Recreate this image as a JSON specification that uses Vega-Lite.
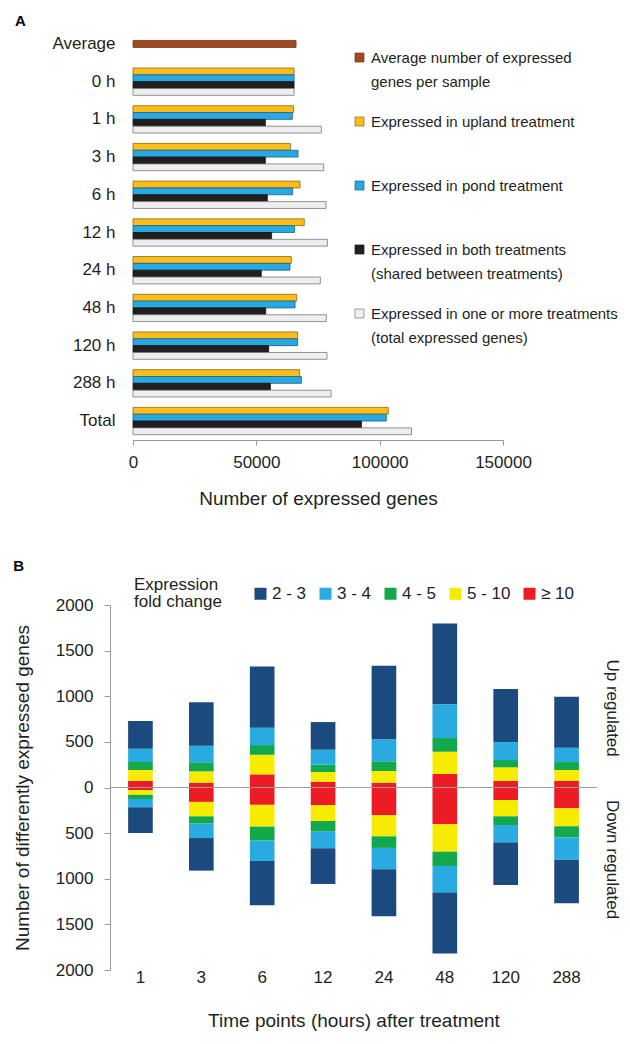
{
  "$schema": "https://vega.github.io/schema/vega-lite/v6.json",
  "padding": {"left": 13, "top": 14, "right": 5, "bottom": 5},
  "background": "white",
  "config": {
    "font": "Liberation Sans",
    "view": {"stroke": null},
    "axis": {"labelColor": "#231F20", "titleColor": "#231F20", "titleFontWeight": "normal", "labelFontSize": 17, "titleFontSize": 19, "grid": false},
    "legend": {"labelColor": "#231F20", "titleColor": "#231F20"},
    "title": {"color": "#000000", "fontWeight": "bold", "fontSize": 15},
    "style": {"guide-label": {"lineHeight": 24}}
  },
  "datasets": {
    "a": [
      {"time": "Average", "series": "Average", "genes": 66100},
      {"time": "0 h", "series": "Upland", "genes": 65300},
      {"time": "0 h", "series": "Pond", "genes": 65300},
      {"time": "0 h", "series": "Both", "genes": 65300},
      {"time": "0 h", "series": "Total", "genes": 65300},
      {"time": "1 h", "series": "Upland", "genes": 65100},
      {"time": "1 h", "series": "Pond", "genes": 64600},
      {"time": "1 h", "series": "Both", "genes": 53650},
      {"time": "1 h", "series": "Total", "genes": 76350},
      {"time": "3 h", "series": "Upland", "genes": 63900},
      {"time": "3 h", "series": "Pond", "genes": 66900},
      {"time": "3 h", "series": "Both", "genes": 53650},
      {"time": "3 h", "series": "Total", "genes": 77300},
      {"time": "6 h", "series": "Upland", "genes": 67700},
      {"time": "6 h", "series": "Pond", "genes": 64700},
      {"time": "6 h", "series": "Both", "genes": 54450},
      {"time": "6 h", "series": "Total", "genes": 78250},
      {"time": "12 h", "series": "Upland", "genes": 69450},
      {"time": "12 h", "series": "Pond", "genes": 65500},
      {"time": "12 h", "series": "Both", "genes": 56200},
      {"time": "12 h", "series": "Total", "genes": 78800},
      {"time": "24 h", "series": "Upland", "genes": 64200},
      {"time": "24 h", "series": "Pond", "genes": 63650},
      {"time": "24 h", "series": "Both", "genes": 52000},
      {"time": "24 h", "series": "Total", "genes": 75950},
      {"time": "48 h", "series": "Upland", "genes": 66350},
      {"time": "48 h", "series": "Pond", "genes": 65700},
      {"time": "48 h", "series": "Both", "genes": 53800},
      {"time": "48 h", "series": "Total", "genes": 78400},
      {"time": "120 h", "series": "Upland", "genes": 66750},
      {"time": "120 h", "series": "Pond", "genes": 66750},
      {"time": "120 h", "series": "Both", "genes": 55000},
      {"time": "120 h", "series": "Total", "genes": 78650},
      {"time": "288 h", "series": "Upland", "genes": 67550},
      {"time": "288 h", "series": "Pond", "genes": 68250},
      {"time": "288 h", "series": "Both", "genes": 55700},
      {"time": "288 h", "series": "Total", "genes": 80300},
      {"time": "Total", "series": "Upland", "genes": 103500},
      {"time": "Total", "series": "Pond", "genes": 102700},
      {"time": "Total", "series": "Both", "genes": 92600},
      {"time": "Total", "series": "Total", "genes": 112900}
    ],
    "b": [
      {"time": "1", "fold": "≥ 10", "k": 1, "n": 75},
      {"time": "1", "fold": "5 - 10", "k": 2, "n": 117},
      {"time": "1", "fold": "4 - 5", "k": 3, "n": 87},
      {"time": "1", "fold": "3 - 4", "k": 4, "n": 146},
      {"time": "1", "fold": "2 - 3", "k": 5, "n": 303},
      {"time": "1", "fold": "≥ 10", "k": 1, "n": -27},
      {"time": "1", "fold": "5 - 10", "k": 2, "n": -52},
      {"time": "1", "fold": "4 - 5", "k": 3, "n": -47},
      {"time": "1", "fold": "3 - 4", "k": 4, "n": -91},
      {"time": "1", "fold": "2 - 3", "k": 5, "n": -281},
      {"time": "3", "fold": "≥ 10", "k": 1, "n": 53},
      {"time": "3", "fold": "5 - 10", "k": 2, "n": 124},
      {"time": "3", "fold": "4 - 5", "k": 3, "n": 99},
      {"time": "3", "fold": "3 - 4", "k": 4, "n": 182},
      {"time": "3", "fold": "2 - 3", "k": 5, "n": 475},
      {"time": "3", "fold": "≥ 10", "k": 1, "n": -158},
      {"time": "3", "fold": "5 - 10", "k": 2, "n": -158},
      {"time": "3", "fold": "4 - 5", "k": 3, "n": -80},
      {"time": "3", "fold": "3 - 4", "k": 4, "n": -158},
      {"time": "3", "fold": "2 - 3", "k": 5, "n": -357},
      {"time": "6", "fold": "≥ 10", "k": 1, "n": 144},
      {"time": "6", "fold": "5 - 10", "k": 2, "n": 215},
      {"time": "6", "fold": "4 - 5", "k": 3, "n": 106},
      {"time": "6", "fold": "3 - 4", "k": 4, "n": 190},
      {"time": "6", "fold": "2 - 3", "k": 5, "n": 672},
      {"time": "6", "fold": "≥ 10", "k": 1, "n": -190},
      {"time": "6", "fold": "5 - 10", "k": 2, "n": -239},
      {"time": "6", "fold": "4 - 5", "k": 3, "n": -153},
      {"time": "6", "fold": "3 - 4", "k": 4, "n": -223},
      {"time": "6", "fold": "2 - 3", "k": 5, "n": -485},
      {"time": "12", "fold": "≥ 10", "k": 1, "n": 64},
      {"time": "12", "fold": "5 - 10", "k": 2, "n": 106},
      {"time": "12", "fold": "4 - 5", "k": 3, "n": 80},
      {"time": "12", "fold": "3 - 4", "k": 4, "n": 164},
      {"time": "12", "fold": "2 - 3", "k": 5, "n": 303},
      {"time": "12", "fold": "≥ 10", "k": 1, "n": -192},
      {"time": "12", "fold": "5 - 10", "k": 2, "n": -175},
      {"time": "12", "fold": "4 - 5", "k": 3, "n": -117},
      {"time": "12", "fold": "3 - 4", "k": 4, "n": -182},
      {"time": "12", "fold": "2 - 3", "k": 5, "n": -391},
      {"time": "24", "fold": "≥ 10", "k": 1, "n": 53},
      {"time": "24", "fold": "5 - 10", "k": 2, "n": 128},
      {"time": "24", "fold": "4 - 5", "k": 3, "n": 106},
      {"time": "24", "fold": "3 - 4", "k": 4, "n": 241},
      {"time": "24", "fold": "2 - 3", "k": 5, "n": 806},
      {"time": "24", "fold": "≥ 10", "k": 1, "n": -305},
      {"time": "24", "fold": "5 - 10", "k": 2, "n": -230},
      {"time": "24", "fold": "4 - 5", "k": 3, "n": -127},
      {"time": "24", "fold": "3 - 4", "k": 4, "n": -234},
      {"time": "24", "fold": "2 - 3", "k": 5, "n": -514},
      {"time": "48", "fold": "≥ 10", "k": 1, "n": 148},
      {"time": "48", "fold": "5 - 10", "k": 2, "n": 244},
      {"time": "48", "fold": "4 - 5", "k": 3, "n": 150},
      {"time": "48", "fold": "3 - 4", "k": 4, "n": 372},
      {"time": "48", "fold": "2 - 3", "k": 5, "n": 884},
      {"time": "48", "fold": "≥ 10", "k": 1, "n": -403},
      {"time": "48", "fold": "5 - 10", "k": 2, "n": -300},
      {"time": "48", "fold": "4 - 5", "k": 3, "n": -157},
      {"time": "48", "fold": "3 - 4", "k": 4, "n": -292},
      {"time": "48", "fold": "2 - 3", "k": 5, "n": -668},
      {"time": "120", "fold": "≥ 10", "k": 1, "n": 71},
      {"time": "120", "fold": "5 - 10", "k": 2, "n": 150},
      {"time": "120", "fold": "4 - 5", "k": 3, "n": 80},
      {"time": "120", "fold": "3 - 4", "k": 4, "n": 197},
      {"time": "120", "fold": "2 - 3", "k": 5, "n": 581},
      {"time": "120", "fold": "≥ 10", "k": 1, "n": -137},
      {"time": "120", "fold": "5 - 10", "k": 2, "n": -179},
      {"time": "120", "fold": "4 - 5", "k": 3, "n": -95},
      {"time": "120", "fold": "3 - 4", "k": 4, "n": -193},
      {"time": "120", "fold": "2 - 3", "k": 5, "n": -464},
      {"time": "288", "fold": "≥ 10", "k": 1, "n": 75},
      {"time": "288", "fold": "5 - 10", "k": 2, "n": 117},
      {"time": "288", "fold": "4 - 5", "k": 3, "n": 87},
      {"time": "288", "fold": "3 - 4", "k": 4, "n": 157},
      {"time": "288", "fold": "2 - 3", "k": 5, "n": 559},
      {"time": "288", "fold": "≥ 10", "k": 1, "n": -228},
      {"time": "288", "fold": "5 - 10", "k": 2, "n": -197},
      {"time": "288", "fold": "4 - 5", "k": 3, "n": -121},
      {"time": "288", "fold": "3 - 4", "k": 4, "n": -245},
      {"time": "288", "fold": "2 - 3", "k": 5, "n": -477}
    ],
    "c": [
      {"time": "288", "pos": 870, "label": "Up regulated"},
      {"time": "288", "pos": -790, "label": "Down regulated"}
    ]
  },
  "resolve": {"scale": {"color": "independent", "stroke": "independent", "x": "independent", "y": "independent"}, "legend": {"color": "independent"}},
  "concat": [
    {
      "title": {"text": "A", "anchor": "start", "frame": "bounds", "dx": -37, "offset": -4},
      "width": 393,
      "height": 415,
      "data": {"name": "a"},
      "encoding": {
        "y": {
          "field": "time", "type": "nominal",
          "sort": ["Average", "0 h", "1 h", "3 h", "6 h", "12 h", "24 h", "48 h", "120 h", "288 h", "Total"],
          "scale": {"domain": ["Average", "0 h", "1 h", "3 h", "6 h", "12 h", "24 h", "48 h", "120 h", "288 h", "Total"], "paddingInner": 0.275, "paddingOuter": 0.14},
          "axis": {"title": null, "ticks": false, "domain": false, "labelPadding": -5}
        },
        "x": {
          "field": "genes", "type": "quantitative",
          "scale": {"domain": [0, 150000], "range": [23, 393]},
          "axis": {"values": [0, 50000, 100000, 150000], "format": "d", "title": "Number of expressed genes", "domainColor": "#9a9a9a", "tickColor": "#9a9a9a", "tickSize": 5, "labelPadding": 9, "titlePadding": 19, "labelFlush": false}
        },
        "color": {
          "field": "series", "type": "nominal",
          "scale": {"domain": ["Average", "Upland", "Pond", "Both", "Total"], "range": ["#9E4A22", "#FCBD1B", "#27AAE1", "#231F20", "#EEEEEE"]},
          "legend": {
            "title": null, "orient": "none", "legendX": 242, "legendY": 25, "direction": "vertical",
            "symbolType": "square", "symbolSize": 81, "symbolStrokeColor": "#555555", "symbolStrokeWidth": 0.7,
            "labelFontSize": 15, "labelOffset": 4, "rowPadding": 24, "labelLimit": 400,
            "labelExpr": "datum.label == 'Average' ? ['Average number of expressed', 'genes per sample'] : datum.label == 'Upland' ? ['Expressed in upland treatment', ''] : datum.label == 'Pond' ? ['Expressed in pond treatment', ''] : datum.label == 'Both' ? ['Expressed in both treatments', '(shared between treatments)'] : ['Expressed in one or more treatments', '(total expressed genes)']"
          }
        },
        "stroke": {
          "field": "series", "type": "nominal",
          "scale": {"domain": ["Average", "Upland", "Pond", "Both", "Total"], "range": ["#7A3517", "#8C6B12", "#1D5F88", "#111111", "#7A7A7A"]},
          "legend": null
        }
      },
      "layer": [
        {
          "transform": [{"filter": "datum.series === 'Average'"}],
          "mark": {"type": "bar", "height": 7, "strokeWidth": 0.8}
        },
        {
          "transform": [{"filter": "datum.series !== 'Average'"}],
          "mark": {"type": "bar", "strokeWidth": 0.8},
          "encoding": {
            "yOffset": {"field": "series", "type": "nominal", "scale": {"domain": ["Upland", "Pond", "Both", "Total"]}}
          }
        }
      ]
    },
    {
      "title": {"text": "B", "anchor": "start", "frame": "bounds", "offset": 11},
      "width": 487,
      "height": 365,
      "layer": [
        {
          "data": {"name": "b"},
          "mark": {"type": "bar", "width": {"band": 0.405}},
          "encoding": {
            "x": {
              "field": "time", "type": "ordinal",
              "sort": ["1", "3", "6", "12", "24", "48", "120", "288"],
              "scale": {"domain": ["1", "3", "6", "12", "24", "48", "120", "288"], "paddingInner": 0, "paddingOuter": 0},
              "axis": {"title": "Time points (hours) after treatment", "labelAngle": 0, "domain": false, "ticks": false, "labelPadding": -1, "titlePadding": 26}
            },
            "y": {
              "field": "n", "type": "quantitative", "stack": "zero",
              "scale": {"domain": [-2000, 2000]},
              "axis": {"values": [-2000, -1500, -1000, -500, 0, 500, 1000, 1500, 2000], "labelExpr": "format(abs(datum.value), 'd')", "title": "Number of differently expressed genes", "domainColor": "#9a9a9a", "tickColor": "#9a9a9a", "tickSize": 6, "labelPadding": 11, "titlePadding": 23}
            },
            "color": {
              "field": "fold", "type": "nominal",
              "scale": {"domain": ["2 - 3", "3 - 4", "4 - 5", "5 - 10", "≥ 10"], "range": ["#1B4A7E", "#29ABE2", "#13A84B", "#F7EC00", "#EC1C24"]},
              "legend": {
                "title": ["Expression", "fold change"], "orient": "none", "legendX": 24, "legendY": -20,
                "direction": "horizontal", "titleOrient": "left", "titleFontSize": 17, "titleFontWeight": "normal", "titlePadding": 30, "titleLineHeight": 17,
                "symbolType": "square", "symbolSize": 144, "symbolStrokeWidth": 0,
                "labelFontSize": 17, "labelOffset": 3, "columnPadding": 10
              }
            },
            "order": {"field": "k", "type": "quantitative"}
          }
        },
        {
          "data": {"values": [{}]},
          "mark": {"type": "rule", "color": "#9a9a9a", "strokeWidth": 1},
          "encoding": {"y": {"datum": 0}}
        },
        {
          "data": {"name": "c"},
          "mark": {"type": "text", "angle": 90, "dy": -45, "fontSize": 17, "color": "#231F20"},
          "encoding": {
            "x": {"field": "time", "type": "ordinal"},
            "y": {"field": "pos", "type": "quantitative"},
            "text": {"field": "label"}
          }
        }
      ]
    }
  ],
  "columns": 1,
  "align": "none",
  "spacing": 51
}
